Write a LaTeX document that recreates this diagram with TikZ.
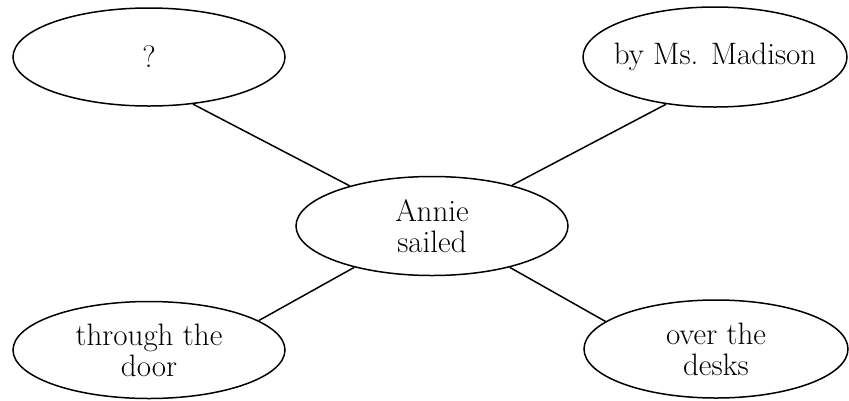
\documentclass[tikz,border=0pt]{standalone}
\usetikzlibrary{shapes.geometric}
\begin{document}
\begin{tikzpicture}[x=1pt,y=-1pt,
  bubble/.style={ellipse,draw,line width=1.5pt,inner xsep=-60pt,inner ysep=0pt,
    align=center,font=\fontsize{31}{31}\selectfont},
  link/.style={line width=1.5pt}]
\useasboundingbox (0,0) rectangle (849,400);
\node[bubble,minimum width=272pt,minimum height=98pt] (q) at (149,57) {?};
\node[bubble,minimum width=264pt,minimum height=100pt] (m) at (715,57) {by Ms. Madison};
\node[bubble,minimum width=272pt,minimum height=99pt] (c) at (432,226) {Annie\\sailed};
\node[bubble,minimum width=272pt,minimum height=97pt] (d) at (149,350) {through the\\door};
\node[bubble,minimum width=264pt,minimum height=98pt] (k) at (716,349) {over the\\desks};
\draw[link] (q.-47) -- (c.154);
\draw[link] (m.-136) -- (c.27);
\draw[link] (d.15) -- (c.208);
\draw[link] (k.166) -- (c.-28);
\end{tikzpicture}
\end{document}
